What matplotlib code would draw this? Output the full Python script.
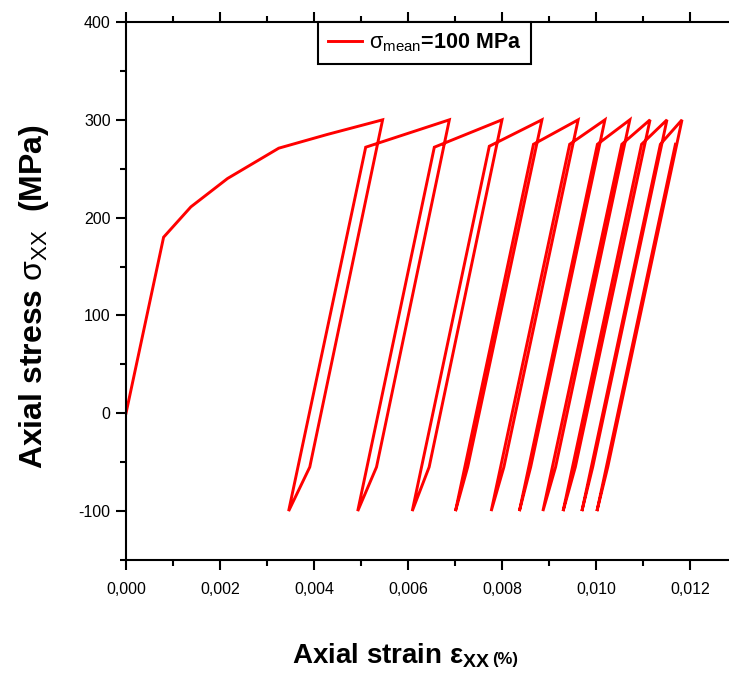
import matplotlib
matplotlib.use('Agg')
import matplotlib.pyplot as plt
from matplotlib.ticker import MultipleLocator, FuncFormatter

plt.rcParams['font.family'] = ['Liberation Sans', 'DejaVu Sans']
plt.rcParams['mathtext.fontset'] = 'custom'
plt.rcParams['mathtext.rm'] = 'Liberation Sans'
plt.rcParams['mathtext.it'] = 'Liberation Sans:italic'
plt.rcParams['mathtext.bf'] = 'Liberation Sans:bold'

# ---- data ----
initial_strain = [0.0, 0.00080, 0.00138, 0.00216, 0.00325, 0.00428]
initial_stress = [0.0, 180.0, 211.0, 240.0, 271.0, 285.0]

peak_strain = [0.00546, 0.00688, 0.00800, 0.00885, 0.00962, 0.01019, 0.01072, 0.01115, 0.01151, 0.01183]
peak_stress = [300, 300, 300, 300, 300, 300, 300, 300, 300, 300]

unload_knee_strain = [0.00391, 0.00533, 0.00645, 0.00727, 0.00804, 0.00861, 0.00914, 0.00956, 0.00993, 0.01025]
unload_knee_stress = [-55, -55, -55, -55, -55, -55, -55, -55, -55, -55]

valley_strain = [0.00346, 0.00493, 0.00609, 0.00701, 0.00777, 0.00837, 0.00887, 0.00930, 0.00970, 0.01002]
valley_stress = [-100, -100, -100, -100, -100, -100, -100, -100, -100, -100]

reload_knee_strain = [0.00510, 0.00656, 0.00773, 0.00867, 0.00944, 0.01003, 0.01055, 0.01097, 0.01137, 0.01169]
reload_knee_stress = [272, 272, 273, 275, 275, 275, 275, 275, 275, 275]

series_label = r'$\mathrm{\sigma}_{\mathrm{mean}}$=100 MPa'

# assemble the path in loading order
strain = list(initial_strain)
stress = list(initial_stress)
for i in range(len(peak_strain)):
    strain += [peak_strain[i], unload_knee_strain[i], valley_strain[i], reload_knee_strain[i]]
    stress += [peak_stress[i], unload_knee_stress[i], valley_stress[i], reload_knee_stress[i]]

# ---- figure ----
fig = plt.figure(figsize=(7.29, 6.77), dpi=100)
ax = fig.add_axes([126/729, 1 - 560/677, (729 - 126)/729, (560 - 22)/677])

ax.plot(strain, stress, color='#ff0000', lw=2.1, label=series_label, solid_joinstyle='miter')

ax.set_xlim(0, 0.01283)
ax.set_ylim(-150, 400)

ax.xaxis.set_major_locator(MultipleLocator(0.002))
ax.xaxis.set_minor_locator(MultipleLocator(0.001))
ax.yaxis.set_major_locator(MultipleLocator(100))
ax.yaxis.set_minor_locator(MultipleLocator(50))
ax.xaxis.set_major_formatter(FuncFormatter(lambda v, p: f'{v:.3f}'.replace('.', ',')))
ax.yaxis.set_major_formatter(FuncFormatter(lambda v, p: f'{v:.0f}'))

ax.spines['right'].set_visible(False)
for s in ['left', 'bottom', 'top']:
    ax.spines[s].set_linewidth(1.5)

ax.tick_params(which='both', direction='out', top=True, right=False, labeltop=False,
               width=1.5, colors='black')
ax.tick_params(which='major', length=7, labelsize=11.5)
ax.tick_params(which='minor', length=4)
ax.tick_params(axis='x', which='major', pad=9)
ax.tick_params(axis='y', which='major', pad=4)

ax.set_xlabel('Axial strain ε$_{\\mathbf{XX}}$', fontsize=20, fontweight='bold')
ax.xaxis.set_label_coords(0.44, -0.152)
ax.annotate('(%)', xy=(1.0, 0.0), xycoords=ax.xaxis.label, xytext=(1, 2),
            textcoords='offset points', fontsize=12, fontweight='bold', ha='left', va='bottom')

ax.set_ylabel(r'Axial stress $\mathrm{\sigma}_{\mathrm{XX}}$  (MPa)', fontsize=23, fontweight='bold')
ax.yaxis.set_label_coords(-0.125, 0.49)

leg = ax.legend(loc='upper left', bbox_to_anchor=(0.319, 1.0), borderaxespad=0,
                frameon=True, fancybox=False, edgecolor='black',
                prop={'size': 15.5, 'weight': 'bold'},
                handlelength=1.6, handletextpad=0.3, borderpad=0.45)
leg.get_frame().set_linewidth(1.5)
leg.get_frame().set_alpha(1)

fig.savefig('out.png', dpi=100)
